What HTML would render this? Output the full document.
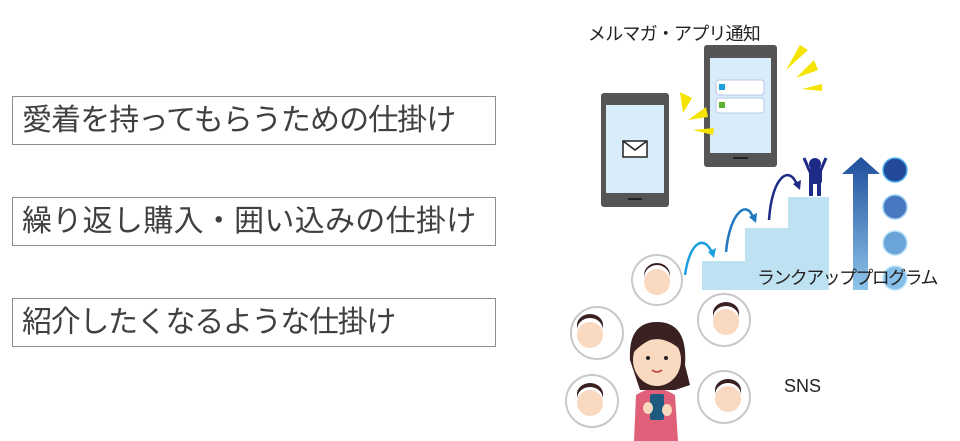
<!DOCTYPE html>
<html><head><meta charset="utf-8"><style>
body{margin:0;background:#fff;width:960px;height:441px;overflow:hidden;position:relative;font-family:"Liberation Sans","Noto Sans CJK JP",sans-serif;}
.box{position:absolute;left:12px;width:484px;height:49px;border:1.5px solid #8c8c8c;box-sizing:border-box;color:#404040;font-size:30px;line-height:47px;padding-left:9px;white-space:nowrap}
.t{position:absolute;color:#222;font-size:18px;white-space:nowrap}
</style></head><body>
<div class="box" style="top:96px;letter-spacing:-0.9px">愛着を持ってもらうための仕掛け</div>
<div class="box" style="top:197px;letter-spacing:0.3px">繰り返し購入・囲い込みの仕掛け</div>
<div class="box" style="top:298px;letter-spacing:-1.3px">紹介したくなるような仕掛け</div>
<svg width="960" height="441" style="position:absolute;left:0;top:0">
<defs>
<linearGradient id="ga" x1="0" y1="0" x2="0" y2="1"><stop offset="0" stop-color="#1f4e9c"/><stop offset="1" stop-color="#8ec5ea"/></linearGradient>
</defs>
<rect x="601" y="93" width="68" height="114" rx="3" fill="#555"/>
<rect x="606" y="105" width="58" height="88" fill="#d8ecfa"/>
<rect x="623" y="141" width="24" height="16" fill="#fff" stroke="#222" stroke-width="1.5"/>
<polyline points="623,141 635,150 647,141" fill="none" stroke="#222" stroke-width="1.5"/>
<rect x="628" y="198" width="14" height="2" fill="#222"/>
<rect x="704" y="45" width="73" height="122" rx="3" fill="#555"/>
<rect x="710" y="58" width="61" height="95" fill="#d8ecfa"/>
<rect x="716" y="80" width="48" height="15" rx="3" fill="#fff" stroke="#b8c8e8"/>
<rect x="719" y="84" width="6" height="6" fill="#1ea0e0"/>
<rect x="716" y="98" width="48" height="15" rx="3" fill="#fff" stroke="#b8c8e8"/>
<rect x="719" y="102" width="6" height="6" fill="#5cb030"/>
<rect x="733" y="157" width="15" height="2" fill="#222"/>
<g fill="#f4e400">
<polygon points="680,92 692,98 683,113"/><polygon points="688,120 706,107 708,117"/><polygon points="693,130 714,128 713,135"/>
<polygon points="800,45 808,50 786,70"/><polygon points="796,78 814,60 818,70"/><polygon points="802,89 822,84 822,91"/>
</g>
<path d="M702,261 H745 V228 H788 V197 H829 V290 H702 Z" fill="#bfe2f2"/>
<g fill="none" stroke-width="2.5">
<path d="M685,275 C690,240 705,235 712,253" stroke="#1aa0e0"/>
<path d="M726,252 C730,210 748,200 753,218" stroke="#1f78c0"/>
<path d="M769,220 C772,175 790,165 797,185" stroke="#1d2a86"/>
</g>
<polygon points="708,252 716,248 714,258" fill="#1aa0e0"/>
<polygon points="749,217 757,213 756,223" fill="#1f78c0"/>
<polygon points="793,184 801,180 800,190" fill="#1d2a86"/>
<g fill="#1d2a86">
<circle cx="815" cy="164" r="6"/><rect x="809" y="168" width="13" height="16" rx="3"/>
<rect x="809" y="182" width="4" height="14"/><rect x="817" y="182" width="4" height="14"/>
<path d="M810,172 L804,158" stroke="#1d2a86" stroke-width="3"/><path d="M820,172 L826,158" stroke="#1d2a86" stroke-width="3"/>
</g>
<polygon points="861,157 880,174 868,174 868,290 853,290 853,174 842,174" fill="url(#ga)"/>
<circle cx="895" cy="170" r="12" fill="#234a98" stroke="#4fb0f0" stroke-width="1.5"/>
<circle cx="895" cy="207" r="12" fill="#4a78c0" stroke="#9ad0f5" stroke-width="1.5"/>
<circle cx="895" cy="243" r="12" fill="#6aa4d8" stroke="#b8e0f8" stroke-width="1.5"/>
<circle cx="895" cy="278" r="12" fill="#86c0ea" stroke="#c0e6f8" stroke-width="1.5"/>
<g fill="#fff" stroke="#c8c8c8" stroke-width="2">
<circle cx="657" cy="280" r="25"/><circle cx="597" cy="333" r="26"/><circle cx="724" cy="320" r="26"/>
<circle cx="592" cy="401" r="26"/><circle cx="724" cy="397" r="26"/>
</g>
<g fill="#f9d9c0">
<circle cx="657" cy="282" r="13"/><circle cx="590" cy="335" r="13"/><circle cx="726" cy="322" r="13"/><circle cx="590" cy="403" r="13"/><circle cx="728" cy="399" r="13"/>
</g>
<g fill="#3a2020">
<path d="M644,278 a13,13 0 0 1 26,0 l0,-3 a13,12 0 0 0 -26,0z"/>
<path d="M577,330 a13,12 0 0 1 26,0 l0,-5 a13,11 0 0 0 -26,0z"/>
<path d="M713,318 a13,12 0 0 1 26,0 l0,-5 a13,11 0 0 0 -26,0z"/>
<path d="M577,399 a13,12 0 0 1 26,0 l0,-5 a13,11 0 0 0 -26,0z"/>
<path d="M715,395 a13,12 0 0 1 26,0 l0,-5 a13,11 0 0 0 -26,0z"/>
</g>
<path d="M634,441 L636,395 Q655,382 675,395 L678,441Z" fill="#e0607a"/>
<path d="M630,360 Q628,322 657,322 Q688,322 685,365 L690,385 L675,390 L640,390Z" fill="#3a2020"/>
<ellipse cx="657" cy="360" rx="24" ry="26" fill="#f9d9c0"/>
<path d="M634,352 Q636,325 657,326 Q680,326 681,350 Q665,336 650,340 Q640,345 634,352Z" fill="#3a2020"/>
<circle cx="648" cy="358" r="2" fill="#222"/><circle cx="666" cy="358" r="2" fill="#222"/>
<path d="M652,370 Q657,374 662,370" stroke="#c04040" stroke-width="1.5" fill="none"/>
<rect x="650" y="394" width="14" height="26" rx="2" fill="#1e5a80"/>
<ellipse cx="648" cy="408" rx="5" ry="6" fill="#f9d9c0"/><ellipse cx="667" cy="410" rx="5" ry="6" fill="#f9d9c0"/>
</svg>
<div class="t" style="left:588px;top:20px;letter-spacing:-0.8px">メルマガ・アプリ通知</div>
<div class="t" style="left:757px;top:264px;letter-spacing:-1.6px">ランクアッププログラム</div>
<div class="t" style="left:784px;top:376px">SNS</div>
</body></html>
